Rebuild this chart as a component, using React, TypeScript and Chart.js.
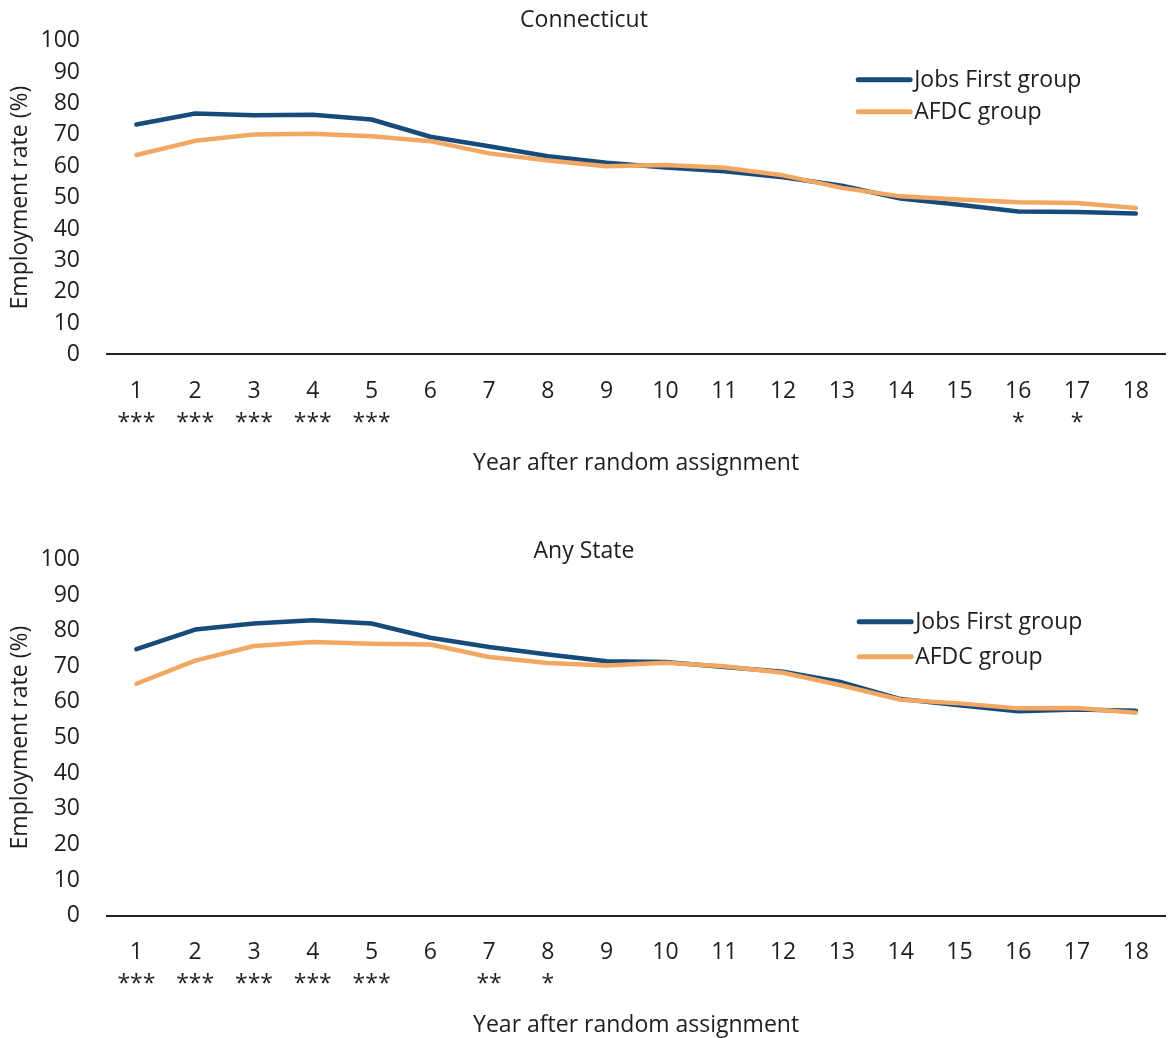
import React, { useEffect, useRef } from 'react';
import { Chart, registerables } from 'chart.js';

Chart.register(...registerables);

const years = ['1', '2', '3', '4', '5', '6', '7', '8', '9', '10', '11', '12', '13', '14', '15', '16', '17', '18'];
const ctStars = ['***', '***', '***', '***', '***', '', '', '', '', '', '', '', '', '', '', '*', '*', ''];
const anyStars = ['***', '***', '***', '***', '***', '', '**', '*', '', '', '', '', '', '', '', '', '', ''];

const ctJobsFirst = [73.3, 76.8, 76.3, 76.4, 74.9, 69.4, 66.4, 63.2, 61.1, 59.6, 58.4, 56.5, 53.8, 49.7, 47.7, 45.6, 45.4, 44.9];
const ctAfdc = [63.6, 68.1, 70.1, 70.4, 69.6, 68.0, 64.1, 61.8, 60.0, 60.4, 59.5, 57.1, 53.1, 50.4, 49.4, 48.5, 48.3, 46.7];
const anyJobsFirst = [74.8, 80.3, 82.0, 82.9, 82.0, 78.0, 75.4, 73.3, 71.4, 71.2, 69.8, 68.5, 65.5, 60.8, 59.1, 57.4, 57.9, 57.5];
const anyAfdc = [65.1, 71.6, 75.7, 76.8, 76.3, 76.1, 72.6, 70.9, 70.2, 71.0, 70.0, 68.2, 64.6, 60.6, 59.6, 58.2, 58.3, 57.0];

const seriesNames = ['Jobs First group', 'AFDC group'];
const yTitle = 'Employment rate (%)';
const xTitle = 'Year after random assignment';

const FONT = '"Open Sans", "Noto Sans", sans-serif';
const FS = 23;
const TEXT = '#1e1e1e';
const BLUE = '#174b7b';
const ORANGE = '#f2a862';

const insideLegend = {
  id: 'insideLegend',
  afterDraw(chart: any, _args: any, opts: any) {
    const { ctx, chartArea } = chart;
    ctx.save();
    ctx.font = `${FS}px ${FONT}`;
    ctx.textBaseline = 'middle';
    ctx.textAlign = 'left';
    chart.data.datasets.forEach((ds: any, i: number) => {
      const y = chartArea.top + opts.top + i * opts.gap;
      const x = chartArea.right - opts.right;
      ctx.beginPath();
      ctx.strokeStyle = ds.borderColor;
      ctx.lineWidth = 5;
      ctx.lineCap = 'round';
      ctx.moveTo(x, y);
      ctx.lineTo(x + 52, y);
      ctx.stroke();
      ctx.fillStyle = TEXT;
      ctx.fillText(ds.label, x + 56, y + 1);
    });
    ctx.restore();
  },
};

type PanelProps = {
  title: string;
  jobs: number[];
  afdc: number[];
  stars: string[];
  height: number;
  titlePad: { top: number; bottom: number };
  bottomPad: number;
  legend: { top: number; gap: number; right: number };
};

function Panel(props: PanelProps) {
  const ref = useRef<HTMLCanvasElement | null>(null);
  useEffect(() => {
    if (!ref.current) return;
    const font = { family: FONT, size: FS, weight: 'normal' as const };
    const chart = new Chart(ref.current, {
      type: 'line',
      data: {
        labels: years.map((y, i) => [y, props.stars[i]]),
        datasets: [
          {
            label: seriesNames[0],
            data: props.jobs,
            borderColor: BLUE,
            backgroundColor: BLUE,
            borderWidth: 4.5,
            pointRadius: 0,
            borderCapStyle: 'round',
            borderJoinStyle: 'round',
            tension: 0,
            order: 1,
          },
          {
            label: seriesNames[1],
            data: props.afdc,
            borderColor: ORANGE,
            backgroundColor: ORANGE,
            borderWidth: 4.5,
            pointRadius: 0,
            borderCapStyle: 'round',
            borderJoinStyle: 'round',
            tension: 0,
            order: 0,
          },
        ],
      },
      options: {
        animation: false,
        responsive: false,
        maintainAspectRatio: false,
        events: [],
        layout: { padding: { left: 0, right: 2, top: 0, bottom: props.bottomPad } },
        plugins: {
          legend: { display: false },
          tooltip: { enabled: false },
          title: {
            display: true,
            text: props.title,
            color: TEXT,
            font: { ...font, lineHeight: 1.2 },
            padding: props.titlePad,
          },
          insideLegend: props.legend,
        } as any,
        scales: {
          x: {
            type: 'category',
            offset: true,
            grid: { display: false, drawTicks: false },
            border: { display: true, color: '#222', width: 2 },
            ticks: {
              color: TEXT,
              font: { ...font, lineHeight: 1.38 },
              padding: 21,
              maxRotation: 0,
              autoSkip: false,
            },
            title: {
              display: true,
              text: xTitle,
              color: TEXT,
              font: { ...font, lineHeight: 1.2 },
              padding: { top: -10, bottom: -1 },
            },
          },
          y: {
            min: 0,
            max: 100,
            grid: { display: false, drawTicks: false },
            border: { display: false },
            ticks: {
              stepSize: 10,
              autoSkip: false,
              color: TEXT,
              font: { ...font, lineHeight: 1.2 },
              padding: 27,
            },
            title: {
              display: true,
              text: yTitle,
              color: TEXT,
              font: { ...font, lineHeight: 1.2 },
              padding: { top: 6.2, bottom: 0 },
            },
            afterFit: (scale: any) => {
              scale.width = 107;
            },
          },
        },
      },
      plugins: [insideLegend],
    });
    return () => chart.destroy();
  }, []);
  return <canvas ref={ref} width={1170} height={props.height} style={{ display: 'block', width: 1170, height: props.height }} />;
}

export default function App() {
  return (
    <div style={{ position: 'absolute', left: 0, top: 0, width: 1170, height: 1038, background: '#fff' }}>
      <Panel
        title="Connecticut"
        jobs={ctJobsFirst}
        afdc={ctAfdc}
        stars={ctStars}
        height={495}
        titlePad={{ top: 3.2, bottom: 6.2 }}
        bottomPad={18.5}
        legend={{ top: 39, gap: 32, right: 307 }}
      />
      <Panel
        title="Any State"
        jobs={anyJobsFirst}
        afdc={anyAfdc}
        stars={anyStars}
        height={543}
        titlePad={{ top: 42.9, bottom: -6.2 }}
        bottomPad={0}
        legend={{ top: 62.4, gap: 35, right: 306 }}
      />
    </div>
  );
}
